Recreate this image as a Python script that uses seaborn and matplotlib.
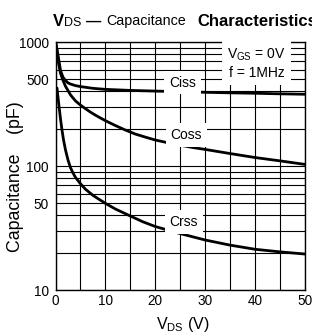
import numpy as np
import pandas as pd
import matplotlib
matplotlib.use("Agg")
import matplotlib.pyplot as plt
from matplotlib.ticker import FixedLocator, NullFormatter
import seaborn as sns

# ---------------- data ----------------
vds_ciss = [0, 0.3, 0.6, 1, 1.5, 2, 2.5, 3, 4, 5, 7.5, 10, 15, 20, 25, 30, 35, 40, 45, 50]
ciss = [1000, 870, 740, 590, 520, 490, 468, 458, 445, 437, 423, 415, 407, 402, 398, 393, 389, 386, 382, 379]

vds_coss = [0, 0.3, 0.6, 1, 1.5, 2, 3, 4, 5, 6, 7, 8, 9, 10, 12, 14, 16, 18, 20,
            22.5, 25, 27.5, 30, 35, 40, 45, 50]
coss = [1000, 850, 680, 560, 490, 440, 375, 335, 310, 290, 272, 257, 244, 232, 212, 195, 181, 171, 162,
        154, 147, 141, 136, 126, 117, 110, 103]

vds_crss = [0.3, 0.6, 1, 1.3, 1.6, 2, 2.5, 3, 3.5, 4, 5, 6, 7.5, 9, 10, 12, 15, 17.5, 20, 25, 30, 35, 40, 45, 50]
crss = [425, 330, 240, 195, 163, 135, 112, 97, 88, 81, 72, 65, 58, 53, 50, 45, 39.5, 35.5, 32.5, 28.5, 25.3, 23, 21.3, 20.3, 19.5]

series_names = ["Ciss", "Coss", "Crss"]
x_ticks = [0, 10, 20, 30, 40, 50]
y_ticks = [10, 50, 100, 500, 1000]
y_ticklabels = ["10", "50", "100", "500", "1000"]

# ---------------- style ----------------
sns.set_style("white")
plt.rcParams["font.family"] = ["Liberation Sans", "DejaVu Sans"]
plt.rcParams["mathtext.default"] = "regular"
plt.rcParams["text.color"] = "black"
plt.rcParams["axes.labelcolor"] = "black"
plt.rcParams["xtick.color"] = "black"
plt.rcParams["ytick.color"] = "black"

df = pd.concat([
    pd.DataFrame({"V": vds_ciss, "C": ciss, "s": series_names[0]}),
    pd.DataFrame({"V": vds_coss, "C": coss, "s": series_names[1]}),
    pd.DataFrame({"V": vds_crss, "C": crss, "s": series_names[2]}),
])

W, H = 312, 336
fig = plt.figure(figsize=(W / 100, H / 100), dpi=100)
ax = fig.add_axes([55.5 / W, 1 - 290 / H, (305 - 55.5) / W, (290 - 42) / H])

sns.lineplot(data=df, x="V", y="C", hue="s", palette=["black"] * 3,
             estimator=None, sort=False, legend=False, lw=2.0, ax=ax)

ax.set_yscale("log")
ax.set_xlim(0, 50)
ax.set_ylim(10, 1000)
ax.xaxis.set_major_locator(FixedLocator(x_ticks))
ax.xaxis.set_minor_locator(FixedLocator([5, 15, 25, 35, 45]))
ax.yaxis.set_major_locator(FixedLocator(y_ticks))
ax.yaxis.set_minor_locator(FixedLocator([20, 30, 40, 60, 70, 80, 90, 200, 300, 400, 600, 700, 800, 900]))
ax.yaxis.set_minor_formatter(NullFormatter())
ax.set_yticklabels(y_ticklabels)
ax.grid(True, which="both", color="black", lw=0.8)
ax.tick_params(which="both", length=0, labelsize=9.8, colors="black")
ax.tick_params(axis="y", pad=5)
ax.tick_params(axis="x", pad=3)
for sp in ax.spines.values():
    sp.set_color("black")
    sp.set_linewidth(1.0)
ax.set_xlabel("")
ax.set_ylabel("")

# curve labels with white boxes
box = dict(boxstyle="square,pad=0.35", fc="white", ec="none")
ax.text(25.5, 471, "Ciss", ha="center", va="center", fontsize=10, bbox=box, zorder=3)
ax.text(26.2, 177, "Coss", ha="center", va="center", fontsize=10, bbox=box, zorder=3)
ax.text(25.7, 35.5, "Crss", ha="center", va="center", fontsize=10, bbox=box, zorder=3)
ax.text(40.3, 670, "V$_{GS}$ = 0V\nf = 1MHz", ha="center", va="center", fontsize=10,
        linespacing=1.25, bbox=dict(boxstyle="square,pad=0.35", fc="white", ec="none"), zorder=3)

# axis labels
fig.text(183 / W, 1 - 325 / H, "V$_{DS}$ (V)", ha="center", va="center", fontsize=11.5)
fig.text(16 / W, 1 - 177 / H, "Capacitance    (pF)", rotation=90, ha="center", va="center", fontsize=12.8)

# title pieces
base = 1 - 25.5 / H
fig.text(53 / W, base, "V", fontsize=12, fontweight="bold", va="baseline")
fig.text(64 / W, 1 - 26.5 / H, "DS", fontsize=9, va="baseline")
fig.text(86 / W, base, "\u2014", fontsize=11, fontweight="bold", va="baseline")
fig.text(106 / W, base, "Capacitance", fontsize=10.3, va="baseline")
fig.text(197 / W, base, "Characteristics", fontsize=12, fontweight="bold", va="baseline")

fig.savefig("out.png", dpi=100)
